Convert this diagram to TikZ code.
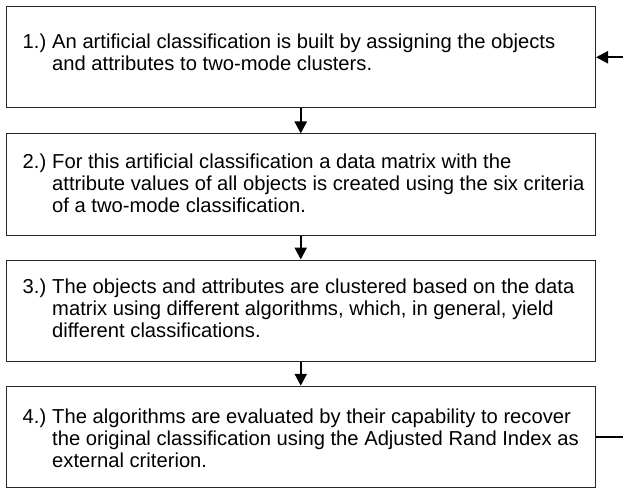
\documentclass[tikz,border=0pt]{standalone}
\usepackage{fontspec}
\setmainfont{Liberation Sans}
\usetikzlibrary{arrows.meta}
\tikzset{
  stepbox/.style={draw=black!85, line width=1pt, minimum width=589.5pt, minimum height=101pt, inner sep=0pt},
  steptext/.style={anchor=west, inner sep=0pt, font=\fontsize{20.2}{22}\selectfont},
  flow/.style={line width=2.3pt, -{Triangle[length=12pt,width=12pt]}},
  loopline/.style={line width=2.3pt}
}
\newcommand{\stepitem}[2]{\makebox[29.5pt][l]{\strut #1}\parbox[t]{540pt}{\raggedright #2\strut}}
\begin{document}
\begin{tikzpicture}[x=1pt,y=-1pt]
\useasboundingbox (0,0) rectangle (623,489);
\node[stepbox] (b1) at (300.75,57.25) {};
\node[stepbox] (b2) at (300.75,184.5) {};
\node[stepbox] (b3) at (300.75,310.5) {};
\node[stepbox] (b4) at (300.75,436.75) {};
\node[steptext] (t1) at ([xshift=17pt,yshift=2pt]b1.west) {\stepitem{1.)}{An artificial classification is built by assigning the objects\\ and attributes to two-mode clusters.}};
\node[steptext] (t2) at ([xshift=17pt,yshift=-2pt]b2.west) {\stepitem{2.)}{For this artificial classification a data matrix with the\\ attribute values of all objects is created using the six criteria\\ of a two-mode classification.}};
\node[steptext] (t3) at ([xshift=17pt,yshift=-1pt]b3.west) {\stepitem{3.)}{The objects and attributes are clustered based on the data\\ matrix using different algorithms, which, in general, yield\\ different classifications.}};
\node[steptext] (t4) at ([xshift=17pt,yshift=-4pt]b4.west) {\stepitem{4.)}{The algorithms are evaluated by their capability to recover\\ the original classification using the Adjusted Rand Index as\\ external criterion.}};
\draw[flow] (b1.south) -- (b2.north);
\draw[flow] (b2.south) -- (b3.north);
\draw[flow] (b3.south) -- (b4.north);
\coordinate (r1) at (623,57.25);
\coordinate (r4) at (623,436.75);
\draw[loopline] (b4.east) -- (r4);
\draw[flow] (r1) -- (b1.east);
\end{tikzpicture}
\end{document}
